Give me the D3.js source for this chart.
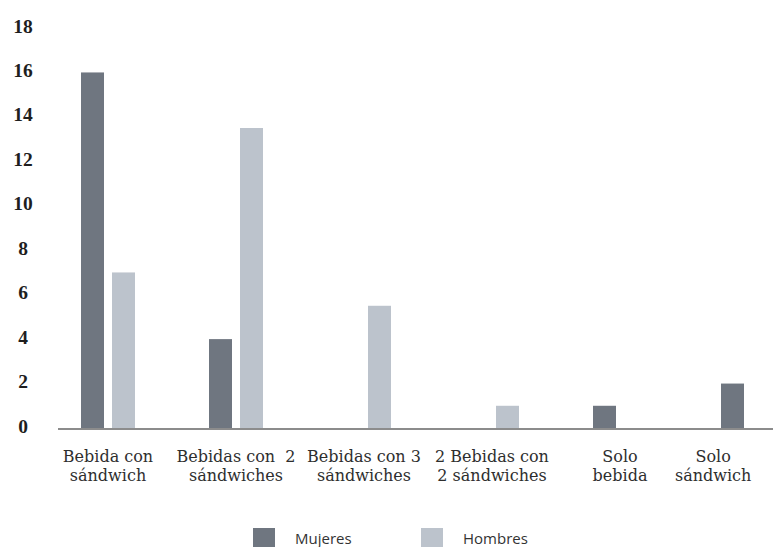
<!DOCTYPE html>
<html>
<head>
<meta charset="utf-8">
<script src="https://cdn.jsdelivr.net/npm/d3@7/dist/d3.min.js"></script>
<style>
  html, body { margin: 0; padding: 0; background: #ffffff; }
  svg { display: block; }
</style>
</head>
<body>
<svg id="chart" width="773" height="547"></svg>
<script>
// Consumo por combinación, separado por sexo
const categories = [
  ["Bebida con", "sándwich"],
  ["Bebidas con  2", "sándwiches"],
  ["Bebidas con 3", "sándwiches"],
  ["2 Bebidas con", "2 sándwiches"],
  ["Solo", "bebida"],
  ["Solo", "sándwich"]
];
const seriesNames = ["Mujeres", "Hombres"];
const mujeres = [16, 4, 0, 0, 1, 2];
const hombres = [7, 13.5, 5.5, 1, 0, 0];
const yTicks = [0, 2, 4, 6, 8, 10, 12, 14, 16, 18];
const colors = ["#6f7680", "#bcc3cc"];

const W = 773, H = 547;
const svg = d3.select("#chart");

const y = d3.scaleLinear().domain([0, 18]).range([428, 28]);

const keys = categories.map((c, i) => i);
const x = d3.scaleBand().domain(keys).range([44, 812]).padding(0);
const groupW = 54;
const xs = d3.scaleBand().domain(seriesNames).range([0, groupW]).paddingInner(0.258);

const rows = keys.map(i => ({ i, values: [mujeres[i], hombres[i]] }));

// bars
const g = svg.append("g");
rows.forEach(r => {
  const gx = x(r.i) + x.bandwidth() / 2 - groupW / 2;
  seriesNames.forEach((s, k) => {
    const v = r.values[k];
    if (v <= 0) return;
    g.append("rect")
      .attr("x", gx + xs(s))
      .attr("y", y(v))
      .attr("width", xs.bandwidth())
      .attr("height", y(0) - y(v))
      .attr("fill", colors[k]);
  });
});

// baseline
svg.append("line")
  .attr("x1", 58).attr("x2", W)
  .attr("y1", y(0) + 1).attr("y2", y(0) + 1)
  .attr("stroke", "#8c8c8c")
  .attr("stroke-width", 2);

// y tick labels
svg.append("g").selectAll("text")
  .data(yTicks)
  .join("text")
  .attr("x", 23)
  .attr("y", d => y(d) - 2)
  .attr("text-anchor", "middle")
  .attr("dominant-baseline", "central")
  .attr("font-family", "'Liberation Serif', serif")
  .attr("font-weight", "bold")
  .attr("font-size", 19.5)
  .attr("fill", "#1e1e1e")
  .text(d => d);

// category labels (kept inside the right edge)
const lab = svg.append("g").selectAll("text")
  .data(rows)
  .join("text")
  .attr("y", 462)
  .attr("text-anchor", "middle")
  .attr("font-family", "'DejaVu Serif', serif")
  .attr("font-size", 16)
  .attr("fill", "#2e2e2e")
  .style("white-space", "pre");
lab.each(function(d) {
  const t = d3.select(this);
  categories[d.i].forEach((line, j) => {
    t.append("tspan")
      .attr("dy", j === 0 ? 0 : 18.5)
      .text(line);
  });
  const w = this.getBBox().width;
  const cx = Math.min(x(d.i) + x.bandwidth() / 2, W - 4 - w / 2);
  t.selectAll("tspan").attr("x", cx);
});

// legend
const legendX = [253, 421];
const leg = svg.append("g").selectAll("g")
  .data(seriesNames)
  .join("g")
  .attr("transform", (d, k) => `translate(${legendX[k]},528)`);
leg.append("rect")
  .attr("width", 22).attr("height", 22)
  .attr("fill", (d, k) => colors[k]);
leg.append("text")
  .attr("x", 42).attr("y", 16)
  .attr("font-family", "'Open Sans', sans-serif")
  .attr("font-size", 15)
  .attr("fill", "#333")
  .text(d => d);
</script>
</body>
</html>
